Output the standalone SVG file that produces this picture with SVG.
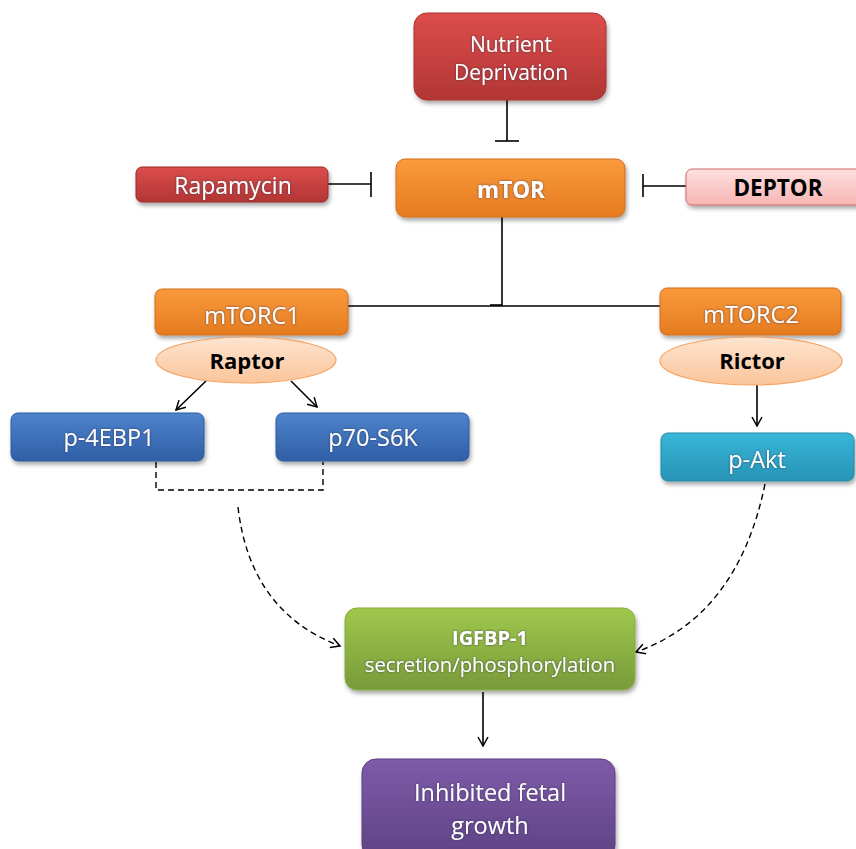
<svg xmlns="http://www.w3.org/2000/svg" width="856" height="849" viewBox="0 0 856 849">
<style>
.lbl{font-family:"Open Sans","Noto Sans","Liberation Sans",sans-serif;font-size:21px;fill:#fff;text-anchor:middle;}
.big{font-size:23.5px;}
.bold{font-weight:bold;}
.dark{fill:#000;}
.ln{stroke:#000;stroke-width:1.6;fill:none;}
.dash{stroke:#000;stroke-width:1.4;fill:none;stroke-dasharray:6 4;}
</style>
<defs>
<filter id="sh" x="-10%" y="-10%" width="125%" height="140%">
<feDropShadow dx="1.5" dy="3" stdDeviation="2" flood-color="#000" flood-opacity="0.35"/>
</filter>
<filter id="ts" x="-10%" y="-20%" width="120%" height="140%">
<feDropShadow dx="0" dy="0" stdDeviation="0.8" flood-color="#335" flood-opacity="0.8"/>
</filter>
<linearGradient id="gRed" x1="0" y1="0" x2="0" y2="1"><stop offset="0" stop-color="#dc4d4b"/><stop offset="1" stop-color="#b23634"/></linearGradient>
<linearGradient id="gOr" x1="0" y1="0" x2="0" y2="1"><stop offset="0" stop-color="#fa9a3c"/><stop offset="1" stop-color="#e57b20"/></linearGradient>
<linearGradient id="gPink" x1="0" y1="0" x2="0" y2="1"><stop offset="0" stop-color="#fde0df"/><stop offset="1" stop-color="#f7b5b3"/></linearGradient>
<linearGradient id="gEl" x1="0" y1="0" x2="0" y2="1"><stop offset="0" stop-color="#fde4d0"/><stop offset="1" stop-color="#fbc59a"/></linearGradient>
<linearGradient id="gBlue" x1="0" y1="0" x2="0" y2="1"><stop offset="0" stop-color="#4d84cc"/><stop offset="1" stop-color="#2f5ea6"/></linearGradient>
<linearGradient id="gCy" x1="0" y1="0" x2="0" y2="1"><stop offset="0" stop-color="#38b6d8"/><stop offset="1" stop-color="#2894b6"/></linearGradient>
<linearGradient id="gGr" x1="0" y1="0" x2="0" y2="1"><stop offset="0" stop-color="#a0c84c"/><stop offset="1" stop-color="#789a3a"/></linearGradient>
<linearGradient id="gPu" x1="0" y1="0" x2="0" y2="1"><stop offset="0" stop-color="#7f5ba8"/><stop offset="1" stop-color="#5e4285"/></linearGradient>
<marker id="arr" markerWidth="12" markerHeight="12" refX="10" refY="6" orient="auto" markerUnits="userSpaceOnUse">
<path d="M1,1 L10,6 L1,11" fill="none" stroke="#000" stroke-width="1.5"/>
</marker>
</defs>

<g id="connectors">
<line class="ln" x1="507" y1="100" x2="507" y2="141"/>
<line class="ln" x1="495" y1="141" x2="519" y2="141" stroke-width="2"/>
<line class="ln" x1="328" y1="184" x2="371" y2="184"/>
<line class="ln" x1="371" y1="172" x2="371" y2="197"/>
<line class="ln" x1="643" y1="186" x2="686" y2="186"/>
<line class="ln" x1="643" y1="174" x2="643" y2="197"/>
<line class="ln" x1="502" y1="217" x2="502" y2="306"/>
<line class="ln" x1="348" y1="306" x2="660" y2="306"/>
<line class="ln" x1="490" y1="305" x2="502" y2="305" stroke-width="2.5"/>
<line class="ln" x1="206" y1="381" x2="176" y2="410" marker-end="url(#arr)"/>
<line class="ln" x1="291" y1="381" x2="317" y2="407" marker-end="url(#arr)"/>
<line class="ln" x1="757" y1="385" x2="757" y2="426" marker-end="url(#arr)"/>
<path class="dash" d="M156 462 V490 H323 V462"/>
<path class="dash" d="M238 507 Q250 612 340 646" marker-end="url(#arr)"/>
<path class="dash" d="M765 484 Q738 616 636 652" marker-end="url(#arr)"/>
<line class="ln" x1="483" y1="692" x2="483" y2="746" marker-end="url(#arr)"/>
</g>

<g id="nutrient">
<rect x="414" y="13" width="192" height="87" rx="13" fill="url(#gRed)" stroke="#a33" stroke-width="1" filter="url(#sh)"/>
<text class="lbl" x="511" y="52" filter="url(#ts)">Nutrient</text>
<text class="lbl" x="511" y="80" filter="url(#ts)">Deprivation</text>
</g>
<g id="rapamycin">
<rect x="136" y="167" width="192" height="35" rx="6" fill="url(#gRed)" stroke="#9a2a28" stroke-width="1" filter="url(#sh)"/>
<text class="lbl" x="233" y="194" style="font-size:23px" filter="url(#ts)">Rapamycin</text>
</g>
<g id="mtor">
<rect x="396" y="159" width="229" height="58" rx="9" fill="url(#gOr)" stroke="#d26f1a" stroke-width="1" filter="url(#sh)"/>
<text class="lbl bold" x="511" y="198" style="font-size:22.5px" filter="url(#ts)">mTOR</text>
</g>
<g id="deptor">
<rect x="686" y="169" width="180" height="36" rx="6" fill="url(#gPink)" stroke="#d06a6a" stroke-width="1" filter="url(#sh)"/>
<text class="lbl bold dark" x="778" y="196" style="font-size:22.5px">DEPTOR</text>
</g>
<g id="mtorc1">
<rect x="155" y="289" width="193" height="46" rx="7" fill="url(#gOr)" stroke="#d26f1a" stroke-width="1" filter="url(#sh)"/>
<text class="lbl big" x="252" y="324" filter="url(#ts)">mTORC1</text>
</g>
<g id="raptor">
<ellipse cx="246" cy="360" rx="90" ry="23" fill="url(#gEl)" stroke="#f3a365" stroke-width="1.2"/>
<text class="lbl bold dark" x="247" y="369" style="font-size:22px">Raptor</text>
</g>
<g id="mtorc2">
<rect x="660" y="288" width="181" height="47" rx="7" fill="url(#gOr)" stroke="#d26f1a" stroke-width="1" filter="url(#sh)"/>
<text class="lbl big" x="751" y="323" filter="url(#ts)">mTORC2</text>
</g>
<g id="rictor">
<ellipse cx="751" cy="361" rx="91" ry="24" fill="url(#gEl)" stroke="#f3a365" stroke-width="1.2"/>
<text class="lbl bold dark" x="752" y="369" style="font-size:22px">Rictor</text>
</g>
<g id="p4ebp1">
<rect x="11" y="413" width="193" height="48" rx="7" fill="url(#gBlue)" stroke="#2e5a9e" stroke-width="1" filter="url(#sh)"/>
<text class="lbl big" x="109" y="446" filter="url(#ts)">p-4EBP1</text>
</g>
<g id="p70s6k">
<rect x="276" y="413" width="193" height="48" rx="7" fill="url(#gBlue)" stroke="#2e5a9e" stroke-width="1" filter="url(#sh)"/>
<text class="lbl big" x="373" y="446" filter="url(#ts)">p70-S6K</text>
</g>
<g id="pakt">
<rect x="661" y="433" width="193" height="48" rx="7" fill="url(#gCy)" stroke="#2689a8" stroke-width="1" filter="url(#sh)"/>
<text class="lbl big" x="757" y="468" filter="url(#ts)">p-Akt</text>
</g>
<g id="igfbp">
<rect x="345" y="608" width="290" height="82" rx="12" fill="url(#gGr)" stroke="#86ad3f" stroke-width="1" filter="url(#sh)"/>
<text class="lbl bold" x="490" y="645" style="font-size:20px" filter="url(#ts)">IGFBP-1</text>
<text class="lbl" x="490" y="672" style="font-size:20.3px" filter="url(#ts)">secretion/phosphorylation</text>
</g>
<g id="fetal">
<rect x="362" y="759" width="253" height="100" rx="14" fill="url(#gPu)" stroke="#5a3f80" stroke-width="1" filter="url(#sh)"/>
<text class="lbl" x="490" y="801" style="font-size:23.5px" filter="url(#ts)">Inhibited fetal</text>
<text class="lbl" x="490" y="834" style="font-size:23.5px" filter="url(#ts)">growth</text>
</g>
</svg>
